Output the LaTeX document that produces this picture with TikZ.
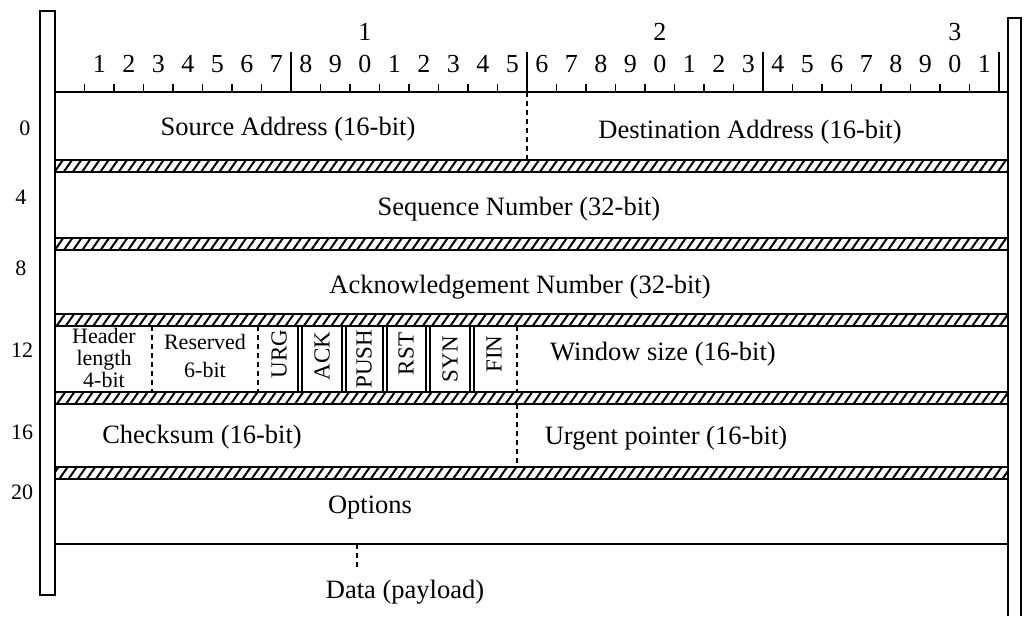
\documentclass[tikz,border=0pt]{standalone}
\usepackage{fontspec}
\setmainfont{Liberation Serif}
\usetikzlibrary{patterns.meta}

\begin{document}
\begin{tikzpicture}[x=1pt, y=-1pt,
    lbl/.style={font=\fontsize{26.5}{30}\selectfont},
    small/.style={font=\fontsize{22}{22}\selectfont, align=center, inner sep=0pt},
    flag/.style={font=\fontsize{23}{24}\selectfont, rotate=90},
    digit/.style={font=\fontsize{26}{28}\selectfont},
    rowno/.style={font=\fontsize{22}{24}\selectfont},
    divider/.style={line width=1.5pt, dash pattern=on 5pt off 4pt},
    band/.style={line width=1.8pt, pattern={Lines[angle=55,distance=7.5pt,line width=2pt]}}]
    \useasboundingbox (0,0) rectangle (1024,616);

    % Side bars
    \draw[line width=1.6pt] (40,11) rectangle (55,595);
    \draw[line width=1.6pt] (1008,616) -- (1008,18) -- (1021,18) -- (1021,616);

    % Ruler
    \draw[line width=1.6pt] (55,92) -- (1008,92);
    \foreach \i in {1,...,31}
        \draw[line width=1.3pt] ({55+29.5*\i},92) -- ++(0,-8);
    \foreach \i in {8,16,24,32}
        \draw[line width=1.6pt] ({55+29.5*\i},92) -- ++(0,-40);
    \foreach \i in {1,...,31} {
        \pgfmathtruncatemacro\d{mod(\i,10)}
        \node[digit] (bit\i) at ({55+29.5*\i+14.75},64) {\d};
    }
    \foreach \t in {1,2,3}
        \node[digit] (ten\t) at ({55+29.5*(10*\t)+14.75},32) {\t};

    % Hatched separators
    \foreach \y in {160,238,314,392,467}
        \draw[band] (55,\y) rectangle (1008,\y+12);
    \draw[line width=1.6pt] (55,544) -- (1008,544);

    % Row offsets
    \node[rowno] (off0) at (25,128) {0};
    \node[rowno] (off4) at (21,197) {4};
    \node[rowno] (off8) at (21,268) {8};
    \node[rowno] (off12) at (22,350) {12};
    \node[rowno] (off16) at (22,432) {16};
    \node[rowno] (off20) at (22,492) {20};

    % Row 0
    \draw[divider] (527,92) -- (527,160);
    \node[lbl] (src) at (288,129) {Source Address (16-bit)};
    \node[lbl] (dst) at (750,132) {Destination Address (16-bit)};

    % Rows 4 and 8
    \node[lbl] (seq) at (519,209) {Sequence Number (32-bit)};
    \node[lbl] (ack) at (520,287) {Acknowledgement Number (32-bit)};

    % Row 12
    \foreach \x in {152,258,517}
        \draw[divider] (\x,326) -- (\x,392);
    \foreach \x in {300,344,385,428,472} {
        \draw[line width=1.2pt] (\x-2,326) -- (\x-2,392);
        \draw[line width=1.2pt] (\x+2,326) -- (\x+2,392);
    }
    \node[small] (hlen) at (104,358) {Header\\length\\4-bit};
    \node[small] (resv) at (205,356) {Reserved\\[6pt]6-bit};
    \node[flag] (urg) at (279,354) {URG};
    \node[flag] (ackf) at (322,356) {ACK};
    \node[flag] (push) at (364,359) {PUSH};
    \node[flag] (rst) at (406,354) {RST};
    \node[flag] (syn) at (450,359) {SYN};
    \node[flag] (fin) at (494,354) {FIN};
    \node[lbl] (win) at (663,354) {Window size (16-bit)};

    % Row 16
    \draw[divider] (517,404) -- (517,467);
    \node[lbl] (csum) at (202,437) {Checksum (16-bit)};
    \node[lbl] (urgp) at (666,438) {Urgent pointer (16-bit)};

    % Options and data
    \node[lbl] (opts) at (370,508) {Options};
    \draw[divider] (357,544) -- (357,568);
    \node[lbl] (data) at (405,592) {Data (payload)};
\end{tikzpicture}
\end{document}
